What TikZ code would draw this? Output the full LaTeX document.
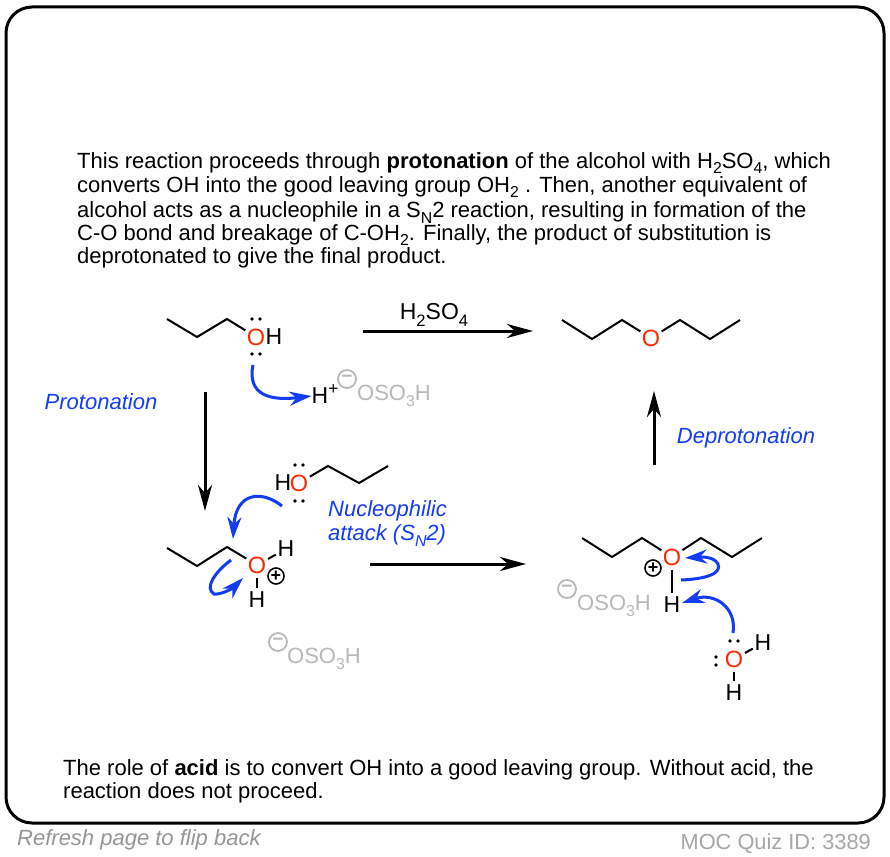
\documentclass[tikz,border=0pt]{standalone}
\usepackage{fontspec}
\usepackage{graphicx}
\setmainfont{Liberation Sans}
\usetikzlibrary{arrows.meta}
\definecolor{myblue}{RGB}{20,60,245}
\definecolor{myred}{RGB}{255,40,0}
\definecolor{mygray}{RGB}{185,185,185}
\definecolor{foot}{RGB}{150,150,150}
\newcommand\sbs[1]{\raisebox{-0.27em}[0pt][0pt]{\scalebox{0.72}{#1}}}
\newcommand\fs[1]{\fontsize{#1}{#1}\selectfont}
\tikzset{
  para/.style={anchor=base west,inner sep=0pt,font=\fs{22}},
  atomO/.style={circle,inner sep=0pt,minimum size=21pt,text=myred,font=\fs{23.5}},
  atomH/.style={circle,inner sep=0pt,minimum size=19pt,font=\fs{23}},
  bond/.style={line width=2pt,line cap=butt,line join=miter},
  rxn/.style={line width=3pt,-{Stealth[length=26pt,width=14pt,inset=8pt]}},
  curly/.style={line width=3pt,myblue,-{Stealth[length=22pt,width=14pt,inset=7pt]}},
  chg/.style={circle,draw,line width=1.6pt,inner sep=0pt,minimum size=16pt,font=\fs{18}\bfseries},
  anion/.style={circle,draw=mygray,text=mygray,line width=1.8pt,inner sep=0pt,minimum size=18pt,font=\fs{19}\bfseries},
  oso/.style={anchor=west,inner sep=0pt,text=mygray,font=\fs{22}},
  lbl/.style={inner sep=0pt,text=myblue,font=\fs{22}\itshape},
  lp/.style={circle,fill,inner sep=0pt,minimum size=3.6pt},
}
\begin{document}
\begin{tikzpicture}[x=1pt,y=-1pt]
\useasboundingbox (0,0) rectangle (890,856);
\fill[white] (0,0) rectangle (890,856);
\draw[line width=3pt,rounded corners=26pt] (6,7) rectangle (884,823);

% top paragraph
\node[para] (p1) at (77,168) {This reaction proceeds through \textbf{protonation} of the alcohol with H\sbs{2}SO\sbs{4}, which};
\node[para] (p2) at (77,192) {converts OH into the good leaving group OH\sbs{2} . Then, another equivalent of};
\node[para] (p3) at (77,217.5) {alcohol acts as a nucleophile in a S\sbs{N}2 reaction, resulting in formation of the};
\node[para] (p4) at (77,240) {C-O bond and breakage of C-OH\sbs{2}. Finally, the product of substitution is};
\node[para] (p5) at (77,263) {deprotonated to give the final product.};

% alcohol (top left)
\coordinate (a1) at (167,319);
\coordinate (a2) at (197,337);
\coordinate (a3) at (227,319);
\node[atomO] (aO) at (256,337) {O};
\node[inner sep=0pt,font=\fs{23}] (aH) at (274,337) {H};
\draw[bond] (a1) -- (a2) -- (a3) -- (aO);
\node[lp] (alp1) at (252,319) {};
\node[lp] (alp2) at (260,319) {};
\node[lp] (alp3) at (252,354) {};
\node[lp] (alp4) at (260,354) {};

% H+ and anion top
\node[anchor=center,inner sep=0pt,font=\fs{23}] (hp) at (325,396) {H\raisebox{0.42em}[0pt][0pt]{\scalebox{0.75}{+}}};
\node[anion] (an1) at (347,379) {−};
\node[oso] (os1) at (357,393) {OSO\sbs{3}H};
\coordinate (c1s) at (253,365);
\draw[curly] (c1s) .. controls (247,395) and (270,401) .. (hp.west);

% H2SO4 arrow
\node[inner sep=0pt,font=\fs{23}] (acid) at (434,312) {H\sbs{2}SO\sbs{4}};
\coordinate (r1s) at (363,331);
\coordinate (r1e) at (533,331);
\draw[rxn] (r1s) -- (r1e);

% product ether
\coordinate (e1) at (562,320);
\coordinate (e2) at (592,339);
\coordinate (e3) at (622,320);
\node[atomO] (eO) at (651,338) {O};
\coordinate (e4) at (680,320);
\coordinate (e5) at (710,339);
\coordinate (e6) at (740,320);
\draw[bond] (e1) -- (e2) -- (e3) -- (eO);
\draw[bond] (eO) -- (e4) -- (e5) -- (e6);

% labels
\node[lbl] (lprot) at (101,402) {Protonation};
\node[lbl] (ldep) at (746,438) {Deprotonation};
\node[lbl,anchor=west] (lnu1) at (328,511) {Nucleophilic};
\node[lbl,anchor=west] (lnu2) at (328,535) {attack (S\sbs{N}2)};

% vertical arrows
\coordinate (r2s) at (205,392);
\coordinate (r2e) at (205,511);
\draw[rxn] (r2s) -- (r2e);
\coordinate (r4s) at (654,465);
\coordinate (r4e) at (654,391);
\draw[rxn] (r4s) -- (r4e);
\coordinate (r3s) at (370,564);
\coordinate (r3e) at (526,564);
\draw[rxn] (r3s) -- (r3e);

% nucleophile alcohol
\node[inner sep=0pt,font=\fs{23}] (nH) at (283,483) {H};
\node[atomO] (nO) at (299,483) {O};
\coordinate (n1) at (328,466);
\coordinate (n2) at (359,483);
\coordinate (n3) at (388,466);
\draw[bond] (nO) -- (n1) -- (n2) -- (n3);
\node[lp] (nlp1) at (295,465) {};
\node[lp] (nlp2) at (303,465) {};
\node[lp] (nlp3) at (295,501) {};
\node[lp] (nlp4) at (303,501) {};

% protonated alcohol
\coordinate (b1) at (167,548);
\coordinate (b2) at (197,566);
\coordinate (b3) at (227,547);
\node[atomO] (bO) at (257,565) {O};
\node[atomH] (bH1) at (286,549) {H};
\node[atomH] (bH2) at (257,600) {H};
\draw[bond] (b1) -- (b2) -- (b3) -- (bO);
\draw[bond] (bO) -- (bH1);
\draw[bond] (bO) -- (bH2);
\node[chg] (bp) at (276,576) {+};
\coordinate (c2s) at (282,506);
\coordinate (c2e) at (233,539);
\draw[curly] (c2s) .. controls (262,490) and (236,492) .. (c2e);
\coordinate (c3s) at (231,560);
\coordinate (c3e) at (243,578);
\draw[curly] (c3s) .. controls (215,572) and (204,588) .. (214,594) .. controls (220,595) and (232,589) .. (c3e);
\node[anion] (an2) at (278,642) {−};
\node[oso] (os2) at (287,656) {OSO\sbs{3}H};

% protonated ether
\coordinate (d1) at (582,538);
\coordinate (d2) at (612,557);
\coordinate (d3) at (642,538);
\node[atomO] (dO) at (672,557) {O};
\coordinate (d4) at (701,538);
\coordinate (d5) at (732,557);
\coordinate (d6) at (762,538);
\node[atomH] (dH) at (672,605) {H};
\draw[bond] (d1) -- (d2) -- (d3) -- (dO);
\draw[bond] (dO) -- (d4) -- (d5) -- (d6);
\draw[bond] (dO) -- (dH);
\node[chg] (dp) at (653,568) {+};
\coordinate (c4s) at (681,580);
\coordinate (c4e) at (685,558);
\draw[curly] (c4s) .. controls (705,579) and (722,574) .. (718,564) .. controls (714,556) and (700,557) .. (c4e);
\node[anion] (an3) at (567,589) {−};
\node[oso] (os3) at (577,603) {OSO\sbs{3}H};

% water
\node[atomO] (wO) at (734,659) {O};
\node[atomH] (wH1) at (763,643) {H};
\node[atomH] (wH2) at (734,693) {H};
\draw[bond] (wO) -- (wH1);
\draw[bond] (wO) -- (wH2);
\node[lp] (wlp1) at (730,641) {};
\node[lp] (wlp2) at (738,641) {};
\node[lp] (wlp3) at (716,657) {};
\node[lp] (wlp4) at (716,665) {};
\coordinate (c5s) at (733,633);
\coordinate (c5e) at (682,603);
\draw[curly] (c5s) .. controls (737,608) and (715,592) .. (c5e);

% bottom text
\node[para] (q1) at (63,775) {The role of \textbf{acid} is to convert OH into a good leaving group. Without acid, the};
\node[para] (q2) at (63,798) {reaction does not proceed.};

% footer
\node[inner sep=0pt,anchor=base west,text=foot,font=\fs{22}\itshape] (f1) at (17,845) {Refresh page to flip back};
\node[inner sep=0pt,anchor=base east,text=mygray!90!black,font=\fs{21.8}] (f2) at (871,849) {MOC Quiz ID: 3389};
\end{tikzpicture}
\end{document}
